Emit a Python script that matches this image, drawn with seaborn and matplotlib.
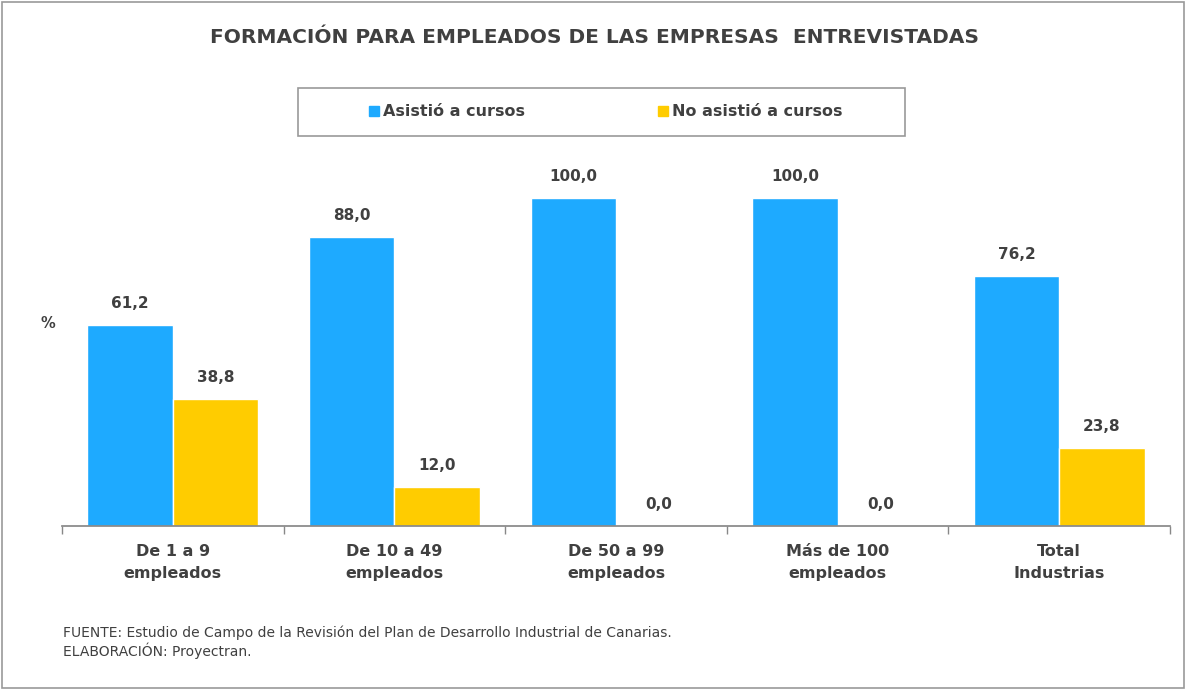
import matplotlib
matplotlib.use("Agg")
import matplotlib.pyplot as plt
import seaborn as sns
import pandas as pd
from matplotlib.patches import Rectangle
from matplotlib.lines import Line2D

categories = ["De 1 a 9\nempleados", "De 10 a 49\nempleados", "De 50 a 99\nempleados",
              "Más de 100\nempleados", "Total\nIndustrias"]
series = ["Asistió a cursos", "No asistió a cursos"]
asistio = [61.2, 88.0, 100.0, 100.0, 76.2]
no_asistio = [38.8, 12.0, 0.0, 0.0, 23.8]
colors = ["#1EAAFF", "#FFCC00"]

df = pd.DataFrame({
    "cat": categories * 2,
    "serie": [series[0]] * 5 + [series[1]] * 5,
    "val": asistio + no_asistio,
})

sns.set_theme(style="white")
plt.rcParams["font.family"] = ["DejaVu Sans"]
txt = "#404040"

fig = plt.figure(figsize=(11.88, 6.89), dpi=100)
ax = fig.add_axes([0.0522, 0.2366, 0.9327, 0.476])
sns.barplot(data=df, x="cat", y="val", hue="serie", palette=colors, width=0.77,
            gap=0.0, ax=ax, legend=False, saturation=1, edgecolor="white", linewidth=1)

ax.set_ylim(0, 100)
ax.set_xlim(-0.5, 4.5)
for s in ["top", "right", "left"]:
    ax.spines[s].set_visible(False)
ax.spines["bottom"].set_color("#888888")
ax.set_yticks([])
ax.set_xlabel("")
ax.set_ylabel("")
ax.set_xticks(range(5))
ax.set_xticklabels(categories, fontsize=11.5, fontweight="bold", color=txt, linespacing=1.55)
ax.tick_params(axis="x", length=0, pad=13)
ax.set_xticks([i - 0.5 for i in range(6)], minor=True)
ax.tick_params(axis="x", which="minor", length=6, width=1, color="#888888", direction="out", bottom=True)

for cont in ax.containers:
    for bar in cont:
        h = bar.get_height()
        ax.annotate(f"{h:.1f}".replace(".", ","), (bar.get_x() + bar.get_width() / 2, h),
                    xytext=(0, 10), textcoords="offset points", ha="center", va="bottom",
                    fontsize=11, fontweight="bold", color=txt, annotation_clip=False)

fig.text(0.5, 0.945, "FORMACIÓN PARA EMPLEADOS DE LAS EMPRESAS  ENTREVISTADAS", ha="center",
         va="center", fontsize=14.5, fontweight="bold", color=txt)
fig.text(0.034, 0.531, "%", ha="left", va="center", fontsize=10.5, fontweight="bold", color=txt)

# legend box
fig.patches.append(Rectangle((298 / 1188, 1 - 136 / 689), (905 - 298) / 1188, 48 / 689,
                             transform=fig.transFigure, fill=False, edgecolor="#999999", lw=1.2))
handles = [Line2D([], [], marker="s", ls="", color=c, markersize=7) for c in colors]
fig.legend(handles, series, loc="center", bbox_to_anchor=(0.51, 1 - 112 / 689), ncol=2,
           frameon=False, handlelength=0.6, handletextpad=0.3, columnspacing=8.3,
           prop={"weight": "bold", "size": 11.5}, labelcolor=txt)

fig.text(63 / 1188, 1 - 633 / 689,
         "FUENTE: Estudio de Campo de la Revisión del Plan de Desarrollo Industrial de Canarias.",
         ha="left", va="center", fontsize=10, color=txt)
fig.text(63 / 1188, 1 - 651 / 689, "ELABORACIÓN: Proyectran.", ha="left", va="center",
         fontsize=10, color=txt)

fig.patches.append(Rectangle((0.002, 0.002), 0.995, 0.995, transform=fig.transFigure,
                             fill=False, edgecolor="#999999", lw=1.2))

fig.savefig("out.png", dpi=100, facecolor="white")
